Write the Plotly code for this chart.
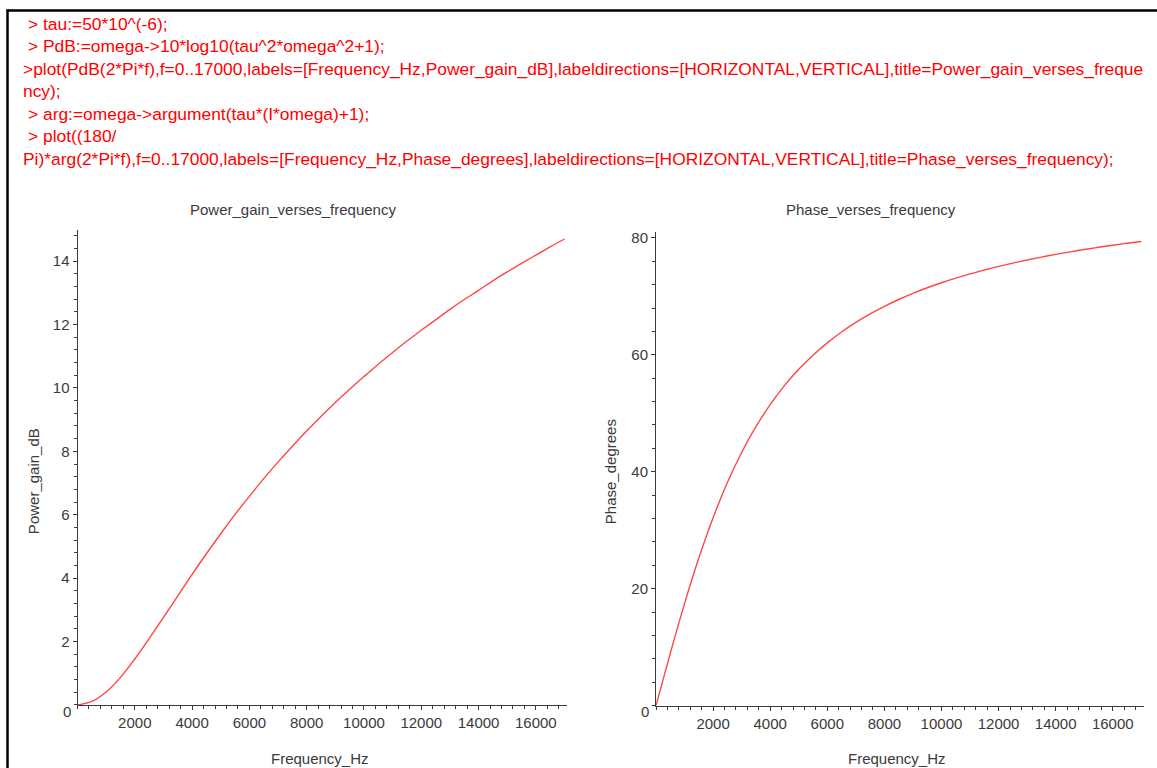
import plotly.graph_objects as go

# ---- data ----
freq_hz = [0, 500, 1000, 1500, 2000, 2500, 3000, 3500, 4000, 4500, 5000, 5500,
           6000, 6500, 7000, 7500, 8000, 8500, 9000, 9500, 10000, 10500, 11000,
           11500, 12000, 12500, 13000, 13500, 14000, 14500, 15000, 15500, 16000,
           16500, 17000]
power_gain_db = [0.00, 0.11, 0.41, 0.87, 1.45, 2.09, 2.76, 3.44, 4.12, 4.77, 5.40,
                 6.01, 6.58, 7.14, 7.66, 8.16, 8.64, 9.10, 9.54, 9.96, 10.36, 10.75,
                 11.12, 11.48, 11.82, 12.15, 12.48, 12.79, 13.08, 13.38, 13.66,
                 13.93, 14.19, 14.45, 14.70]
phase_deg = [0.00, 8.93, 17.44, 25.23, 32.14, 38.15, 43.30, 47.71, 51.49, 54.73,
             57.52, 59.94, 62.05, 63.91, 65.55, 67.00, 68.30, 69.47, 70.53, 71.48,
             72.34, 73.13, 73.86, 74.51, 75.13, 75.70, 76.23, 76.73, 77.19, 77.62,
             78.02, 78.40, 78.75, 79.09, 79.40]
x_ticks = [2000, 4000, 6000, 8000, 10000, 12000, 14000, 16000]
gain_ticks = [2, 4, 6, 8, 10, 12, 14]
phase_ticks = [20, 40, 60, 80]

code_lines = [
    "> tau:=50*10^(-6);",
    "> PdB:=omega->10*log10(tau^2*omega^2+1);",
    ">plot(PdB(2*Pi*f),f=0..17000,labels=[Frequency_Hz,Power_gain_dB],labeldirections=[HORIZONTAL,VERTICAL],title=Power_gain_verses_freque",
    "ncy);",
    "> arg:=omega->argument(tau*(I*omega)+1);",
    "> plot((180/",
    "Pi)*arg(2*Pi*f),f=0..17000,labels=[Frequency_Hz,Phase_degrees],labeldirections=[HORIZONTAL,VERTICAL],title=Phase_verses_frequency);",
]

W, H = 1157, 768
def px(x):
    return x / W
def py(y):
    return 1 - y / H

CURVE = "rgb(255,70,70)"
AXC = "#3a3a3a"
TXT = "#3a3a3a"
FONT = "Liberation Sans, Arial, sans-serif"

fig = go.Figure()
fig.add_trace(go.Scatter(x=freq_hz, y=power_gain_db, mode="lines",
                         line=dict(color=CURVE, width=1.4, shape="spline"),
                         xaxis="x", yaxis="y", showlegend=False, hoverinfo="skip"))
fig.add_trace(go.Scatter(x=freq_hz, y=phase_deg, mode="lines",
                         line=dict(color=CURVE, width=1.4, shape="spline"),
                         xaxis="x2", yaxis="y2", showlegend=False, hoverinfo="skip"))

def xaxis(dom, anchor):
    return dict(domain=dom, range=[0, 17080], anchor=anchor, showgrid=False,
                zeroline=False, showline=True, linecolor=AXC, linewidth=1,
                ticks="outside", ticklen=4, tickcolor=AXC, tickwidth=1,
                tickvals=x_ticks, ticktext=[str(v) for v in x_ticks],
                tickfont=dict(family=FONT, size=15, color=TXT),
                minor=dict(ticks="outside", ticklen=3, tickcolor=AXC, dtick=400, tick0=0),
                fixedrange=True)

def yaxis(dom, rng, ticks, mdt, anchor):
    return dict(domain=dom, range=rng, anchor=anchor, showgrid=False,
                zeroline=False, showline=True, linecolor=AXC, linewidth=1,
                ticks="outside", ticklen=4, tickcolor=AXC, tickwidth=1,
                tickvals=ticks, ticktext=[str(v) for v in ticks],
                tickfont=dict(family=FONT, size=15, color=TXT),
                minor=dict(ticks="outside", ticklen=3, tickcolor=AXC, dtick=mdt, tick0=0),
                fixedrange=True)

annotations = []
for i, line in enumerate(code_lines):
    x0 = 26 if line.startswith("> ") else 21
    annotations.append(dict(text=line, x=px(x0), y=py(21 + i * 22.6), xref="paper", yref="paper",
                            xanchor="left", yanchor="middle", showarrow=False,
                            font=dict(family=FONT, size=17.4, color="#ff0000")))

def label(text, x, y, angle=0, size=15):
    annotations.append(dict(text=text, x=px(x), y=py(y), xref="paper", yref="paper",
                            xanchor="center", yanchor="middle", showarrow=False, textangle=angle,
                            font=dict(family=FONT, size=size, color=TXT)))

label("Power_gain_verses_frequency", 293, 207)
label("Phase_verses_frequency", 871, 207)
label("Frequency_Hz", 320, 758)
label("Frequency_Hz", 897, 758)
label("Power_gain_dB", 33, 480, angle=-90)
label("Phase_degrees", 610, 470, angle=-90)
label("0", 67, 711)
label("0", 645, 711)

shapes = [
    dict(type="line", xref="paper", yref="paper", x0=px(6.5), x1=1, y0=py(7.5), y1=py(7.5),
         line=dict(color="black", width=2.5)),
    dict(type="line", xref="paper", yref="paper", x0=px(7.5), x1=px(7.5), y0=py(6.5), y1=0,
         line=dict(color="black", width=2.5)),
]

fig.update_layout(
    width=W, height=H, autosize=False,
    margin=dict(l=0, r=0, t=0, b=0),
    paper_bgcolor="white", plot_bgcolor="white",
    xaxis=xaxis([px(77.5), px(566.8)], "y"),
    yaxis=yaxis([py(704.7), py(228)], [0, 14.98], gain_ticks, 0.4, "x"),
    xaxis2=xaxis([px(656), px(1143.6)], "y2"),
    yaxis2=yaxis([py(705.3), py(230)], [0, 81.0], phase_ticks, 4, "x2"),
    annotations=annotations, shapes=shapes, showlegend=False,
)

fig.write_html("out.html", config={"displayModeBar": False},
               post_script="document.body.style.margin='0';document.body.style.overflow='hidden';")
